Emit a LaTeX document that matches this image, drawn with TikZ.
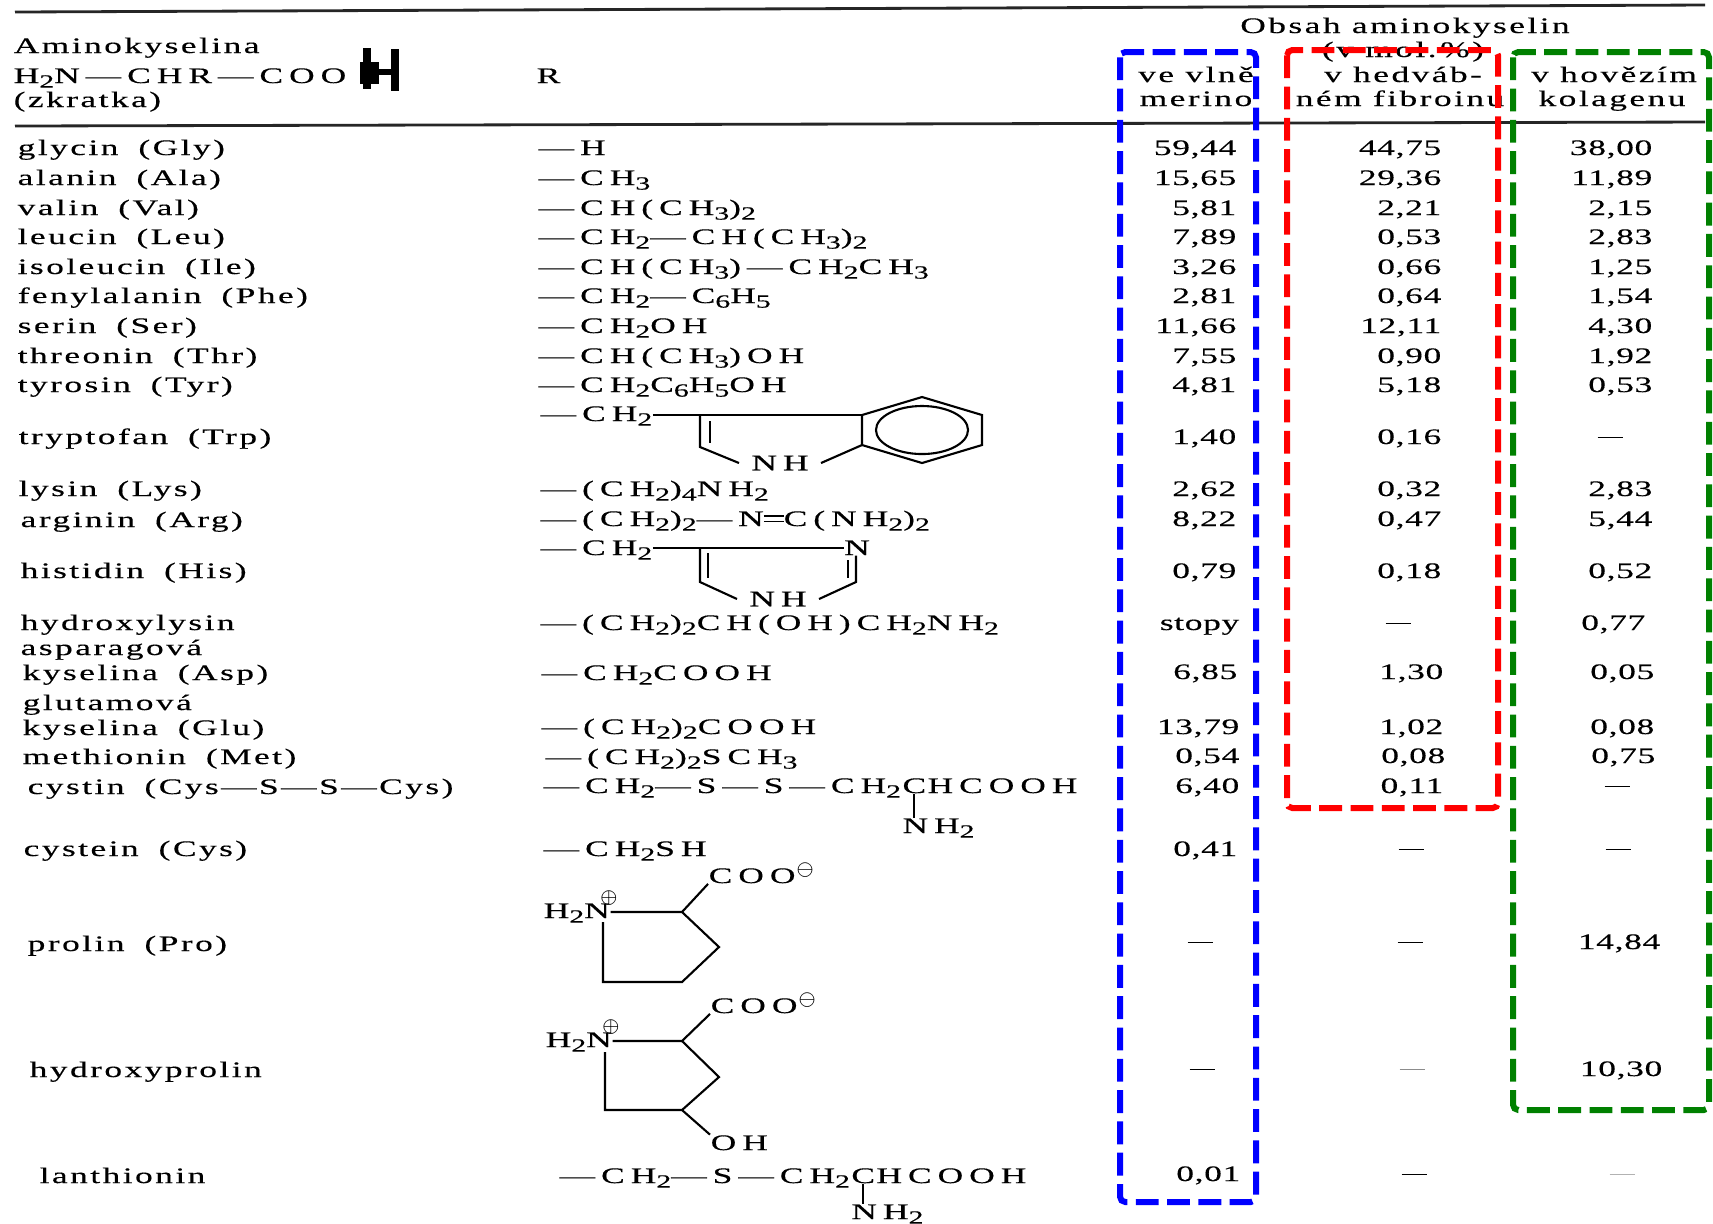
\documentclass[tikz,border=0pt]{standalone}
\usepackage{fontspec}
\setmainfont{Liberation Serif}[FakeStretch=1.6,LetterSpace=11,FakeBold=0.3]
\newfontfamily\fmfont{Liberation Serif}[FakeStretch=1.6,LetterSpace=27,FakeBold=0.3]
\newfontfamily\vlfont{Liberation Serif}[FakeStretch=1.6,LetterSpace=3,FakeBold=0.3]
\usetikzlibrary{positioning}

\definecolor{boxblue}{RGB}{0,0,255}
\definecolor{boxred}{RGB}{255,0,0}
\definecolor{boxgreen}{RGB}{0,128,0}

\newcommand{\sbs}[1]{\raisebox{-0.45ex}{\fontsize{5.3}{5.8}\selectfont #1}}
\newcommand{\dbond}{\rule[0.18em]{0.9em}{0.06em}\hspace{-0.9em}\rule[0.42em]{0.9em}{0.06em}}
\newcommand{\nil}{\rule[0.25em]{0.25cm}{0.5pt}}
\newcommand{\ab}[2]{#1\hspace{0.9em}(#2)}

\tikzset{
  nm/.style={anchor=base west, inner sep=0pt},
  fm/.style={anchor=base west, inner sep=0pt, font=\fontsize{6.3}{7.5}\fmfont},
  vl/.style={anchor=base east, inner sep=0pt, font=\fontsize{6.3}{7.5}\vlfont},
  ctr/.style={anchor=base, inner sep=0pt},
  bond/.style={line width=0.6pt},
  colbox/.style={line width=1.7pt, dash pattern=on 6.5pt off 2.4pt, rounded corners=1.5pt}
}

\begin{document}
\begin{tikzpicture}[x=0.01cm, y=-0.01cm, font=\fontsize{6.3}{7.5}\selectfont]
\fill[white] (0,0) rectangle (1713,1223);
\useasboundingbox (0,0) rectangle (1713,1223);

% header
\draw[line width=0.8pt, black!85] (15,12) -- (1705,5);
\draw[line width=0.8pt, black!85] (15,126) -- (1705,122);
\node[nm] (hdA) at (13,53) {Aminokyselina};
\node[fm] (hdB) at (13,83) {H\sbs{2}N—CHR—COO};
\node[nm] (hdC) at (13,107) {(zkratka)};
\fill (360,62) rectangle (379,84);
\draw[line width=2.4pt] (367,48) -- (367,89);
\draw[line width=2pt] (395,49) -- (395,91);
\draw[line width=1.6pt] (367,72) -- (395,72);
\node[nm] (hdR) at (536,83) {R};
\node[ctr] (hdObs) at (1405,33) {Obsah aminokyselin};
\node[ctr] (hdMol) at (1403,57) {(v mol.\,\%)};
\node[ctr] (hdV1) at (1196,82) {ve vlně};
\node[ctr] (hdV2) at (1196,106) {merino};
\node[ctr] (hdH1) at (1403,82) {v hedváb-};
\node[ctr] (hdH2) at (1400,106) {ném fibroinu};
\node[ctr] (hdK1) at (1614,82) {v hovězím};
\node[ctr] (hdK2) at (1612,106) {kolagenu};

% names
\node[nm] (gly) at (17,155) {\ab{glycin}{Gly}};
\node[nm] (ala) at (17,185) {\ab{alanin}{Ala}};
\node[nm] (val) at (17,215) {\ab{valin}{Val}};
\node[nm] (leu) at (17,244) {\ab{leucin}{Leu}};
\node[nm] (ile) at (17,274) {\ab{isoleucin}{Ile}};
\node[nm] (phe) at (17,303) {\ab{fenylalanin}{Phe}};
\node[nm] (ser) at (17,333) {\ab{serin}{Ser}};
\node[nm] (thr) at (17,363) {\ab{threonin}{Thr}};
\node[nm] (tyr) at (17,392) {\ab{tyrosin}{Tyr}};
\node[nm] (trp) at (18,444) {\ab{tryptofan}{Trp}};
\node[nm] (lys) at (18,496) {\ab{lysin}{Lys}};
\node[nm] (arg) at (20,527) {\ab{arginin}{Arg}};
\node[nm] (his) at (20,578) {\ab{histidin}{His}};
\node[nm] (hyl) at (20,630) {hydroxylysin};
\node[nm] (aspA) at (20,655) {asparagová};
\node[nm] (asp) at (22,680) {\ab{kyselina}{Asp}};
\node[nm] (gluA) at (22,710) {glutamová};
\node[nm] (glu) at (22,735) {\ab{kyselina}{Glu}};
\node[nm] (met) at (22,764) {\ab{methionin}{Met}};
\node[nm] (cyss) at (27,794) {\ab{cystin}{Cys—S—S—Cys}};
\node[nm] (cys) at (23,856) {\ab{cystein}{Cys}};
\node[nm] (pro) at (27,951) {\ab{prolin}{Pro}};
\node[nm] (hyp) at (29,1077) {hydroxyprolin};
\node[nm] (lan) at (39,1183) {lanthionin};

% side chains R
\node[fm] (rgly) at (538,155) {—H};
\node[fm] (rala) at (538,185) {—CH\sbs{3}};
\node[fm] (rval) at (538,215) {—CH(CH\sbs{3})\sbs{2}};
\node[fm] (rleu) at (538,244) {—CH\sbs{2}—CH(CH\sbs{3})\sbs{2}};
\node[fm] (rile) at (538,274) {—CH(CH\sbs{3})—CH\sbs{2}CH\sbs{3}};
\node[fm] (rphe) at (538,303) {—CH\sbs{2}—C\sbs{6}H\sbs{5}};
\node[fm] (rser) at (538,333) {—CH\sbs{2}OH};
\node[fm] (rthr) at (538,363) {—CH(CH\sbs{3})OH};
\node[fm] (rtyr) at (538,392) {—CH\sbs{2}C\sbs{6}H\sbs{5}OH};
\node[fm] (rlys) at (540,496) {—(CH\sbs{2})\sbs{4}NH\sbs{2}};
\node[fm] (rarg) at (540,526) {—(CH\sbs{2})\sbs{2}—N\dbond C(NH\sbs{2})\sbs{2}};
\node[fm] (rhyl) at (540,630) {—(CH\sbs{2})\sbs{2}CH(OH)CH\sbs{2}NH\sbs{2}};
\node[fm] (rasp) at (541,680) {—CH\sbs{2}COOH};
\node[fm] (rglu) at (541,734) {—(CH\sbs{2})\sbs{2}COOH};
\node[fm] (rmet) at (545,764) {—(CH\sbs{2})\sbs{2}SCH\sbs{3}};
\node[fm] (rcys) at (543,856) {—CH\sbs{2}SH};

% tryptofan
\node[fm] (rtrp) at (540,421) {—CH\sbs{2}};
\node[font=\fontsize{6.3}{7.5}\fmfont] (trpN) at (780,463) {NH};
\coordinate (t1) at (700,415);
\coordinate (t2) at (700,447);
\coordinate (b1) at (862,415);
\coordinate (b2) at (922,397);
\coordinate (b3) at (982,415);
\coordinate (b4) at (982,445);
\coordinate (b5) at (922,463);
\coordinate (b6) at (862,445);
\draw[bond] (rtrp.east |- t1) -- (b1);
\draw[bond] (t1) -- (t2) -- (trpN.west);
\draw[bond] (710,421) -- (710,443);
\draw[bond] (trpN.east) -- (b6);
\draw[bond] (b1) -- (b2) -- (b3) -- (b4) -- (b5) -- (b6) -- cycle;
\draw[bond] (922,430) ellipse [x radius=0.46cm, y radius=0.24cm];

% histidin
\node[fm] (rhis) at (540,555) {—CH\sbs{2}};
\node[ctr, font=\fontsize{6.3}{7.5}\fmfont] (hisN) at (857,555) {N};
\node[font=\fontsize{6.3}{7.5}\fmfont] (hisNH) at (778,599) {NH};
\coordinate (h1) at (700,548);
\coordinate (h2) at (700,582);
\coordinate (h3) at (856,582);
\draw[bond] (rhis.east |- h1) -- (hisN.west |- h1);
\draw[bond] (h1) -- (h2) -- (hisNH.west);
\draw[bond] (708,553) -- (708,578);
\draw[bond] (hisNH.east) -- (h3) -- (hisN.south -| h3);
\draw[bond] (848,560) -- (848,578);

% cystin
\node[fm] (rcsa) at (543,793) {—CH\sbs{2}—S—S—CH\sbs{2}};
\node[fm] (rcsc) at (rcsa.base east) {C};
\node[fm] (rcsd) at (rcsc.base east) {HCOOH};
\coordinate (csrow) at (0,833);
\node[fm] (rcsn) at (rcsc.base west |- csrow) {NH\sbs{2}};
\draw[bond] (rcsc.south) -- (rcsc.south |- rcsn.north);

% prolin
\node[fm] (proCOO) at (708,883) {COO$^{\ominus}$};
\node[fm] (proN) at (543,918) {H\sbs{2}N};
\node (proP) at (609,898) {$\scriptscriptstyle\oplus$};
\coordinate (p1) at (603,922);
\coordinate (p2) at (682,912);
\coordinate (p3) at (719,947);
\coordinate (p4) at (682,982);
\coordinate (p5) at (603,982);
\draw[bond] (proN.east |- p2) -- (p2) -- (proCOO.south west);
\draw[bond] (p2) -- (p3) -- (p4) -- (p5) -- (p1);

% hydroxyprolin
\node[fm] (hypCOO) at (710,1013) {COO$^{\ominus}$};
\node[fm] (hypN) at (545,1047) {H\sbs{2}N};
\node (hypP) at (611,1027) {$\scriptscriptstyle\oplus$};
\node[fm] (hypOH) at (710,1150) {OH};
\coordinate (q1) at (605,1052);
\coordinate (q2) at (682,1041);
\coordinate (q3) at (719,1077);
\coordinate (q4) at (682,1110);
\coordinate (q5) at (605,1110);
\draw[bond] (hypN.east |- q2) -- (q2) -- (hypCOO.south west);
\draw[bond] (q2) -- (q3) -- (q4) -- (q5) -- (q1);
\draw[bond] (q4) -- (hypOH.north west);

% lanthionin
\node[fm] (rlna) at (559,1183) {—CH\sbs{2}—S—CH\sbs{2}};
\node[fm] (rlnc) at (rlna.base east) {C};
\node[fm] (rlnd) at (rlnc.base east) {HCOOH};
\coordinate (lnrow) at (0,1219);
\node[fm] (rlnn) at (rlnc.base west |- lnrow) {NH\sbs{2}};
\draw[bond] (rlnc.south) -- (rlnc.south |- rlnn.north);

% values
\node[vl] (gly1) at (1237,155) {59,44};
\node[vl] (gly2) at (1442,155) {44,75};
\node[vl] (gly3) at (1653,155) {38,00};
\node[vl] (ala1) at (1237,185) {15,65};
\node[vl] (ala2) at (1442,185) {29,36};
\node[vl] (ala3) at (1653,185) {11,89};
\node[vl] (val1) at (1237,215) {5,81};
\node[vl] (val2) at (1442,215) {2,21};
\node[vl] (val3) at (1653,215) {2,15};
\node[vl] (leu1) at (1237,244) {7,89};
\node[vl] (leu2) at (1442,244) {0,53};
\node[vl] (leu3) at (1653,244) {2,83};
\node[vl] (ile1) at (1237,274) {3,26};
\node[vl] (ile2) at (1442,274) {0,66};
\node[vl] (ile3) at (1653,274) {1,25};
\node[vl] (phe1) at (1237,303) {2,81};
\node[vl] (phe2) at (1442,303) {0,64};
\node[vl] (phe3) at (1653,303) {1,54};
\node[vl] (ser1) at (1237,333) {11,66};
\node[vl] (ser2) at (1442,333) {12,11};
\node[vl] (ser3) at (1653,333) {4,30};
\node[vl] (thr1) at (1237,363) {7,55};
\node[vl] (thr2) at (1442,363) {0,90};
\node[vl] (thr3) at (1653,363) {1,92};
\node[vl] (tyr1) at (1237,392) {4,81};
\node[vl] (tyr2) at (1442,392) {5,18};
\node[vl] (tyr3) at (1653,392) {0,53};
\node[vl] (trp1) at (1237,444) {1,40};
\node[vl] (trp2) at (1442,444) {0,16};
\node[ctr] (trp3) at (1610,444) {\nil};
\node[vl] (lys1) at (1237,496) {2,62};
\node[vl] (lys2) at (1442,496) {0,32};
\node[vl] (lys3) at (1653,496) {2,83};
\node[vl] (arg1) at (1237,526) {8,22};
\node[vl] (arg2) at (1442,526) {0,47};
\node[vl] (arg3) at (1653,526) {5,44};
\node[vl] (his1) at (1237,578) {0,79};
\node[vl] (his2) at (1442,578) {0,18};
\node[vl] (his3) at (1653,578) {0,52};
\node[vl] (hyl1) at (1240,630) {stopy};
\node[ctr] (hyl2) at (1398,630) {\nil};
\node[vl] (hyl3) at (1646,630) {0,77};
\node[vl] (asp1) at (1238,679) {6,85};
\node[vl] (asp2) at (1444,679) {1,30};
\node[vl] (asp3) at (1655,679) {0,05};
\node[vl] (glu1) at (1240,734) {13,79};
\node[vl] (glu2) at (1444,734) {1,02};
\node[vl] (glu3) at (1655,734) {0,08};
\node[vl] (met1) at (1240,763) {0,54};
\node[vl] (met2) at (1446,763) {0,08};
\node[vl] (met3) at (1656,763) {0,75};
\node[vl] (cyss1) at (1240,793) {6,40};
\node[vl] (cyss2) at (1444,793) {0,11};
\node[ctr] (cyss3) at (1617,793) {\nil};
\node[vl] (cys1) at (1238,856) {0,41};
\node[ctr] (cys2) at (1411,856) {\nil};
\node[ctr] (cys3) at (1618,856) {\nil};
\node[ctr] (pro1) at (1200,949) {\nil};
\node[ctr] (pro2) at (1410,949) {\nil};
\node[vl] (pro3) at (1661,949) {14,84};
\node[ctr] (hyp1) at (1202,1076) {\nil};
\node[ctr, black!45] (hyp2) at (1412,1076) {\nil};
\node[vl] (hyp3) at (1663,1076) {10,30};
\node[vl] (lan1) at (1241,1181) {0,01};
\node[ctr] (lan2) at (1414,1181) {\nil};
\node[ctr, black!30] (lan3) at (1622,1181) {\nil};

% coloured frames
\draw[colbox, boxblue] (1120,52) rectangle (1256,1202);
\draw[colbox, boxred] (1287,50) rectangle (1498,808);
\draw[colbox, boxgreen] (1513,52) rectangle (1709,1110);
\end{tikzpicture}
\end{document}
